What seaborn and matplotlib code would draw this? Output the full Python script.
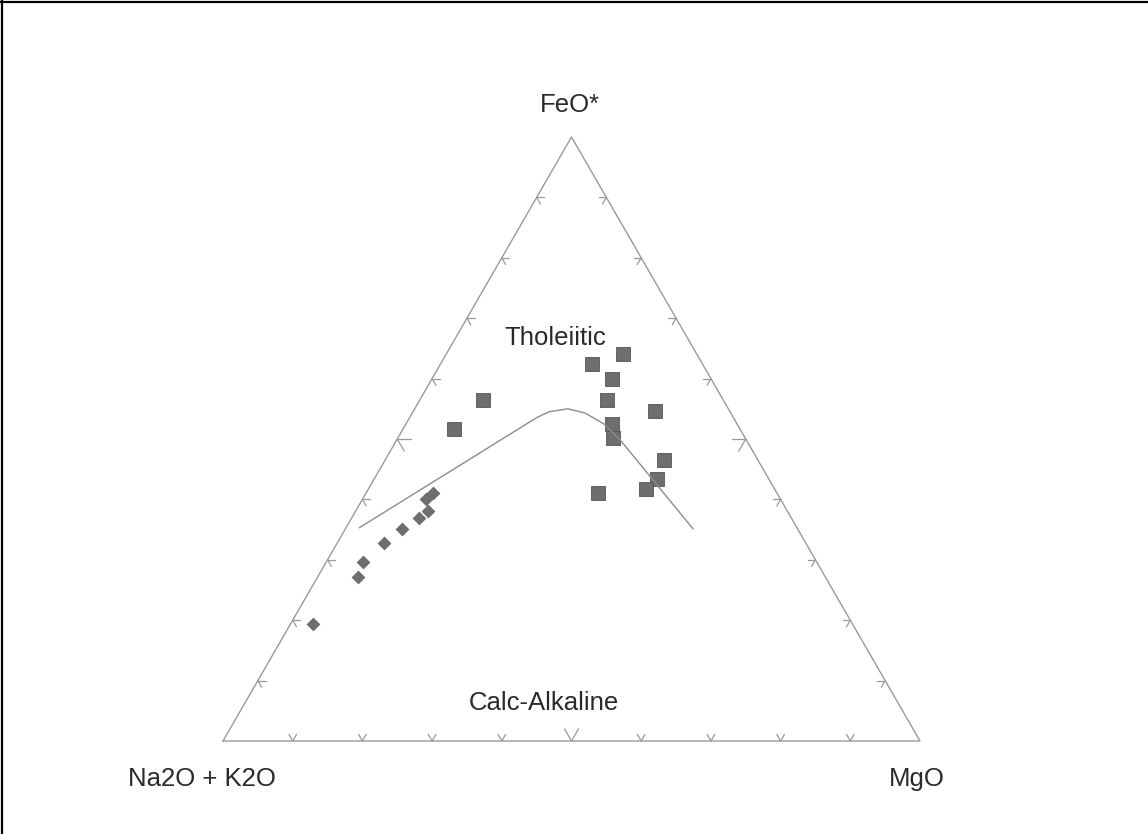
import numpy as np
import pandas as pd
import matplotlib
matplotlib.use("Agg")
import matplotlib.pyplot as plt
import seaborn as sns

# AFM ternary data (wt %)
thol_feo = [64.1, 62.4, 59.9, 56.5, 54.6, 52.5, 50.2, 46.6, 43.4, 41.7, 41.1, 56.4, 51.7]
thol_mgo = [25.4, 21.8, 25.8, 26.8, 34.7, 29.5, 30.9, 39.9, 40.5, 39.8, 33.3, 9.1, 7.3]
thol_alk = [10.5, 15.8, 14.3, 16.7, 10.7, 18.0, 18.9, 13.5, 16.1, 18.5, 25.6, 34.5, 41.0]

calc_feo = [41.1, 40.1, 38.1, 36.9, 35.1, 32.8, 29.6, 27.2, 19.3]
calc_mgo = [9.6, 9.1, 10.4, 9.7, 8.1, 6.7, 5.3, 5.7, 3.2]
calc_alk = [49.3, 50.8, 51.5, 53.4, 56.8, 60.5, 65.1, 67.1, 77.5]

# Tholeiitic / calc-alkaline dividing line
div_feo = [35.3, 53.5, 54.5, 55.0, 54.3, 52.5, 49.9, 35.1]
div_mgo = [1.9, 18.2, 19.5, 22.0, 24.8, 28.4, 32.0, 49.9]
div_alk = [62.8, 28.3, 26.0, 23.0, 20.9, 19.1, 18.1, 15.0]

H = np.sqrt(3) / 2


def to_xy(feo, mgo, alk):
    f = np.asarray(feo, float)
    m = np.asarray(mgo, float)
    a = np.asarray(alk, float)
    tot = f + m + a
    f, m = f / tot, m / tot
    return m + f / 2, f * H


W, Hpx = 1148, 834
fig = plt.figure(figsize=(W / 100, Hpx / 100), dpi=100)
sns.set_style("white")
plt.rcParams['font.family'] = ['Liberation Sans', 'DejaVu Sans']

ax = fig.add_axes([223 / W, (Hpx - 741) / Hpx, 697 / W, 604 / Hpx])
ax.set_xlim(0, 1)
ax.set_ylim(0, H)
ax.axis("off")

edge = "#9a9a9a"
# triangle outline
ax.plot([0, 1, 0.5, 0], [0, 0, H, 0], color=edge, lw=1.0, clip_on=False)

# chevron ticks: two short arms parallel to the other two sides
d60 = np.array([0.5, H])      # along left side (upwards)
d120 = np.array([-0.5, H])    # along right side (upwards)
for i in range(1, 10):
    t = i / 10
    L = 0.02 if i == 5 else 0.011
    # bottom edge
    p = np.array([t, 0.0])
    for d in (d60, d120):
        q = p + L * d
        ax.plot([p[0], q[0]], [p[1], q[1]], color=edge, lw=0.9, clip_on=False)
    # left edge
    p = np.array([t / 2, t * H])
    for d in (np.array([1.0, 0.0]), -d120):
        q = p + L * d
        ax.plot([p[0], q[0]], [p[1], q[1]], color=edge, lw=0.9, clip_on=False)
    # right edge
    p = np.array([1 - t / 2, t * H])
    for d in (np.array([-1.0, 0.0]), -d60):
        q = p + L * d
        ax.plot([p[0], q[0]], [p[1], q[1]], color=edge, lw=0.9, clip_on=False)

# dividing line
dx, dy = to_xy(div_feo, div_mgo, div_alk)
sns.lineplot(x=dx, y=dy, sort=False, color="#8c8c8c", lw=1.0, ax=ax)

tx, ty = to_xy(thol_feo, thol_mgo, thol_alk)
cx, cy = to_xy(calc_feo, calc_mgo, calc_alk)
df = pd.DataFrame({
    "x": np.concatenate([tx, cx]),
    "y": np.concatenate([ty, cy]),
    "group": ["thol"] * len(tx) + ["calc"] * len(cx),
})
sns.scatterplot(data=df[df.group == "thol"], x="x", y="y", marker="s", s=95,
                color="#6e6e6e", edgecolor="#555555", linewidth=0.6, ax=ax,
                clip_on=False, legend=False)
sns.scatterplot(data=df[df.group == "calc"], x="x", y="y", marker="D", s=42,
                color="#6e6e6e", edgecolor="#606060", linewidth=0.5, ax=ax,
                clip_on=False, legend=False)
ax.set_xlabel("")
ax.set_ylabel("")

fs = 18.5
tc = "#2a2a2a"
fig.text(570 / W, 1 - 105 / Hpx, "FeO*", ha="center", va="center", fontsize=fs, color=tc)
fig.text(555 / W, 1 - 338 / Hpx, "Tholeiitic", ha="center", va="center", fontsize=fs, color=tc)
fig.text(544 / W, 1 - 703 / Hpx, "Calc-Alkaline", ha="center", va="center", fontsize=fs, color=tc)
fig.text(202 / W, 1 - 779 / Hpx, "Na2O + K2O", ha="center", va="center", fontsize=fs, color=tc)
fig.text(917 / W, 1 - 779 / Hpx, "MgO", ha="center", va="center", fontsize=fs, color=tc)

# frame on top and left edges of the image
fig.add_artist(plt.Line2D([0, 1], [1 - 1.5 / Hpx, 1 - 1.5 / Hpx], transform=fig.transFigure, color="black", lw=1.6))
fig.add_artist(plt.Line2D([1.5 / W, 1.5 / W], [0, 1], transform=fig.transFigure, color="black", lw=1.6))

fig.savefig("out.png", dpi=100)
